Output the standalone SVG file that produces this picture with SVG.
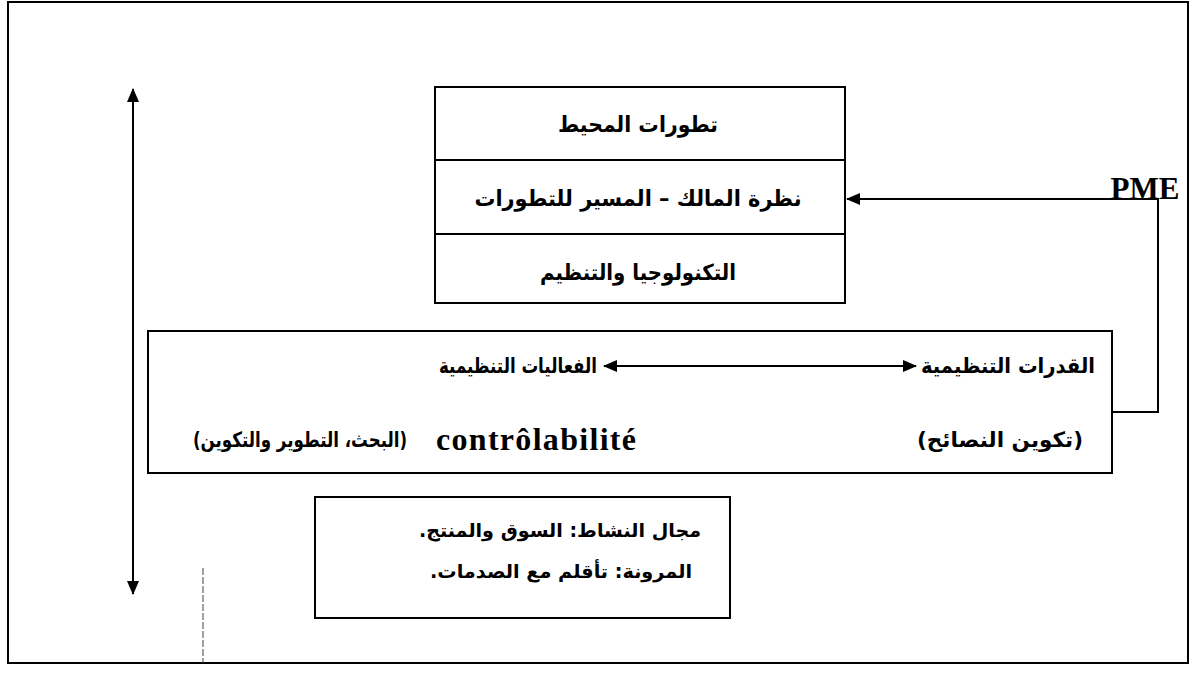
<svg xmlns="http://www.w3.org/2000/svg" width="1196" height="681" viewBox="0 0 1196 681">
<defs>
<style>
.box{fill:none;stroke:#000;stroke-width:2}
.ln{fill:none;stroke:#000;stroke-width:2}
.ar{font-family:"DejaVu Sans",sans-serif;font-weight:bold;fill:#000;text-anchor:middle}
.t1{font-size:22px}
.t2{font-size:21px}
.t3{font-size:19px}
.lat{font-family:"Liberation Serif",serif;font-weight:bold;fill:#000;text-anchor:middle}
</style>
<marker id="ah" viewBox="0 0 14 12" refX="13" refY="6" markerWidth="14" markerHeight="12" markerUnits="userSpaceOnUse" orient="auto-start-reverse">
<path d="M0,0 L14,6 L0,12 Z" fill="#000"/>
</marker>
</defs>
<rect x="0" y="0" width="1196" height="681" fill="#fff"/>
<rect id="frame" class="box" x="8" y="2" width="1180" height="661"/>

<g id="connectors">
<line class="ln" x1="133" y1="89" x2="133" y2="594" marker-start="url(#ah)" marker-end="url(#ah)"/>
<polyline class="ln" points="1112,412 1158,412 1158,199 847,199" marker-end="url(#ah)"/>
<line class="ln" x1="604" y1="366" x2="916" y2="366" marker-start="url(#ah)" marker-end="url(#ah)"/>
<line x1="203" y1="568" x2="203" y2="663" stroke="#444" stroke-width="1" stroke-dasharray="7 2"/>
</g>

<g id="top-box">
<rect class="box" x="435" y="87" width="410" height="216"/>
<line class="ln" x1="435" y1="160" x2="845" y2="160"/>
<line class="ln" x1="435" y1="234" x2="845" y2="234"/>
<text class="ar t1" x="638" y="132" direction="rtl" textLength="160" lengthAdjust="spacingAndGlyphs">تطورات المحيط</text>
<text class="ar t1" x="638" y="206" direction="rtl" textLength="327" lengthAdjust="spacingAndGlyphs">نظرة المالك – المسير للتطورات</text>
<text class="ar t1" x="638" y="280" direction="rtl" textLength="196" lengthAdjust="spacingAndGlyphs">التكنولوجيا والتنظيم</text>
</g>

<g id="pme">
<text class="lat" x="1145" y="199" font-size="31">PME</text>
</g>

<g id="middle-box">
<rect class="box" x="148" y="331" width="964" height="142"/>
<text class="ar t2" x="518" y="373" direction="rtl" textLength="158" lengthAdjust="spacingAndGlyphs">الفعاليات التنظيمية</text>
<text class="ar t2" x="1008" y="373" direction="rtl" textLength="174" lengthAdjust="spacingAndGlyphs">القدرات التنظيمية</text>
<text class="ar t2" x="300" y="447" direction="rtl" textLength="214" lengthAdjust="spacingAndGlyphs">(البحث، التطوير والتكوين)</text>
<text class="ar t2" x="1000" y="447" direction="rtl" textLength="166" lengthAdjust="spacingAndGlyphs">(تكوين النصائح)</text>
<text class="lat" x="536" y="450" font-size="32" textLength="200" lengthAdjust="spacing">contrôlabilité</text>
</g>

<g id="bottom-box">
<rect class="box" x="315" y="497" width="415" height="121"/>
<text class="ar t3" x="560" y="537" direction="rtl" textLength="282" lengthAdjust="spacingAndGlyphs">مجال النشاط: السوق والمنتج.</text>
<text class="ar t3" x="561" y="578" direction="rtl" textLength="262" lengthAdjust="spacingAndGlyphs">المرونة: تأقلم مع الصدمات.</text>
</g>
</svg>
